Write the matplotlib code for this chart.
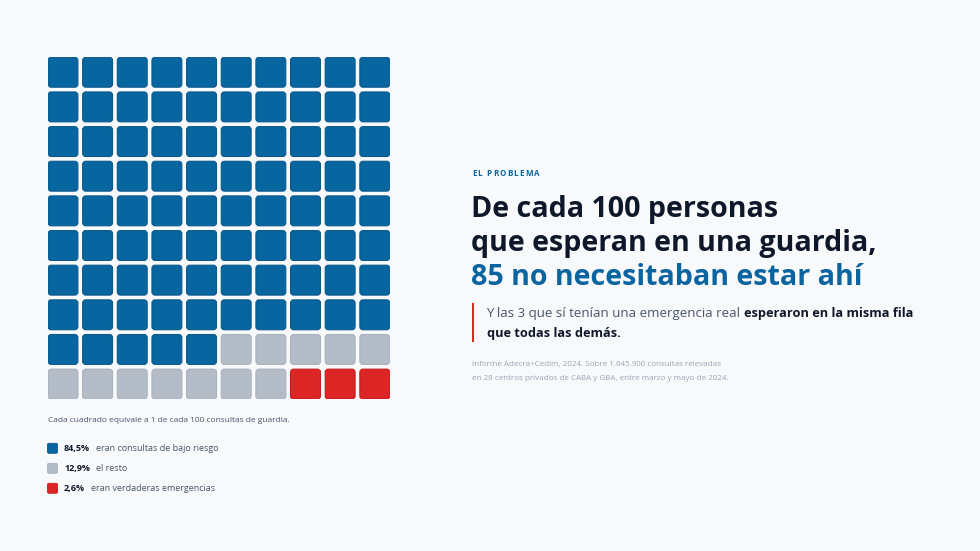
import matplotlib
matplotlib.use("Agg")
import matplotlib.pyplot as plt
from matplotlib.patches import FancyBboxPatch, Rectangle

# ---------------------------------------------------------------------------
# Data
# ---------------------------------------------------------------------------
categories = ["bajo riesgo", "resto", "emergencias"]
counts     = [85, 12, 3]                      # squares out of 100
pct_labels = ["84,5%", "12,9%", "2,6%"]
descr      = ["eran consultas de bajo riesgo", "el resto", "eran verdaderas emergencias"]
n_cols, n_rows = 10, 10

# ---------------------------------------------------------------------------
# Style
# ---------------------------------------------------------------------------
BG    = "#F8F9FB"
FILL  = ["#07659F", "#B4BCC8", "#DC2626"]
EDGE  = ["#0A5A8C", "#A8B1BE", "#C41E1E"]
DARK  = "#0F172A"
BLUE  = "#0A64A0"
GREY  = "#475569"
LIGHT = "#9AA5B5"
plt.rcParams["font.family"] = ["Open Sans", "DejaVu Sans"]

W, H = 980, 551
fig = plt.figure(figsize=(W / 100, H / 100), dpi=100)
fig.patch.set_facecolor(BG)


def fx(x):
    return x / W


def fy(y):
    return 1 - y / H


# ---------------------------------------------------------------------------
# Waffle
# ---------------------------------------------------------------------------
pitch = 34.65
cell = 29.9 / pitch
left, top = 48, 57.3
span = (n_cols - 1) * pitch + cell * pitch
ax = fig.add_axes([fx(left), fy(top + span), span / W, span / H])
ax.set_xlim(0, n_cols - 1 + cell)
ax.set_ylim(n_rows - 1 + cell, 0)
ax.axis("off")

colour_idx = []
for k, n in enumerate(counts):
    colour_idx += [k] * n

for i, k in enumerate(colour_idx):
    r, c = divmod(i, n_cols)
    ax.add_patch(FancyBboxPatch(
        (c, r), cell, cell,
        boxstyle="round,pad=0,rounding_size=0.09",
        facecolor=FILL[k], edgecolor=EDGE[k], linewidth=0.8,
    ))

fig.text(fx(47.5), fy(420.7), "Cada cuadrado equivale a 1 de cada 100 consultas de guardia.",
         fontsize=6.0, color=GREY, va="center", ha="left")

# legend
for k, (p, d) in enumerate(zip(pct_labels, descr)):
    yc = 448.3 + 20 * k
    fig.patches.append(FancyBboxPatch(
        (fx(47.5), fy(yc + 5)), 10 / W, 10 / H,
        boxstyle="round,pad=0,rounding_size=0.002",
        facecolor=FILL[k], edgecolor=EDGE[k], linewidth=0.6,
        transform=fig.transFigure, figure=fig,
    ))
    t = fig.text(fx(64), fy(yc), p, fontsize=6.5, fontweight="bold", color=DARK,
                 va="center", ha="left")
    plt.annotate(d, xy=(1, 0.5), xycoords=t, xytext=(4.6, 0),
                 textcoords="offset points", fontsize=6.5, color=GREY,
                 va="center", ha="left", annotation_clip=False)

# ---------------------------------------------------------------------------
# Right-hand text block
# ---------------------------------------------------------------------------
prev = fig.text(fx(472), fy(177.5), "E", fontsize=5.8, fontweight="bold",
                color=BLUE, va="bottom", ha="left")
for ch in "L PROBLEMA":
    prev = plt.annotate(ch, xy=(1, 0), xycoords=prev, xytext=(0.85, 0),
                        textcoords="offset points", fontsize=5.8, fontweight="bold",
                        color=BLUE, va="bottom", ha="left", annotation_clip=False)

title_lines = ["De cada 100 personas", "que esperan en una guardia,",
               "85 no necesitaban estar ahí"]
title_cols = [DARK, DARK, BLUE]
for i, (txt, col) in enumerate(zip(title_lines, title_cols)):
    fig.text(fx(471), fy(216.7 + 34.2 * i), txt, fontsize=20.6, fontweight="bold",
             color=col, va="baseline", ha="left")

fig.patches.append(Rectangle((fx(471.8), fy(341.7)), 2.2 / W, 39 / H,
                             facecolor="#DC2626", edgecolor="none",
                             transform=fig.transFigure, figure=fig))

t1 = fig.text(fx(486.5), fy(313.3), "Y las 3 que sí tenían una emergencia real",
              fontsize=9.5, color=GREY, va="center", ha="left")
plt.annotate("esperaron en la misma fila", xy=(1, 0.5), xycoords=t1, xytext=(2.6, 0),
             textcoords="offset points", fontsize=9.2, fontweight="bold",
             color=DARK, va="center", ha="left", annotation_clip=False)
fig.text(fx(486.5), fy(333.3), "que todas las demás.", fontsize=9.2,
         fontweight="bold", color=DARK, va="center", ha="left")

source = ["Informe Adecra+Cedim, 2024. Sobre 1.045.900 consultas relevadas",
          "en 28 centros privados de CABA y GBA, entre marzo y mayo de 2024."]
for i, s in enumerate(source):
    fig.text(fx(472), fy(364.5 + 14.3 * i), s, fontsize=5.8, color=LIGHT,
             va="center", ha="left")

fig.savefig("out.png", dpi=100, facecolor=BG)
